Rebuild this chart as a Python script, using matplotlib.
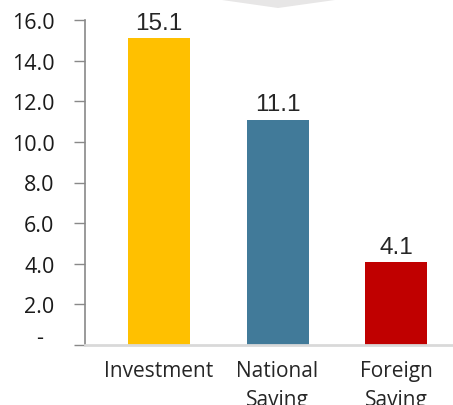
import matplotlib
matplotlib.use("Agg")
import matplotlib.pyplot as plt
from matplotlib.patches import Polygon
from matplotlib.ticker import FixedLocator, FuncFormatter

categories = ["Investment", "National\nSaving", "Foreign\nSaving"]
values = [15.1, 11.1, 4.1]
bar_colors = ["#FFC000", "#417A99", "#C00000"]
yticks = [0, 2, 4, 6, 8, 10, 12, 14, 16]

W, H = 453, 406
fig = plt.figure(figsize=(W / 100, H / 100), dpi=100)
ax = fig.add_axes([85 / W, 60 / H, 1 - 85 / W, (346 - 21) / H])

x = list(range(len(values)))
bars = ax.bar(x, values, width=0.523, color=bar_colors, zorder=2)

for xi, v in zip(x, values):
    ax.annotate(f"{v:.1f}", xy=(xi, v), xytext=(0, 3), textcoords="offset points",
                ha="center", va="bottom", fontsize=17.5, color="#262626",
                family="Liberation Sans")

ax.set_xlim(-0.624, 2.48)
ax.set_ylim(0, 16)

# y axis: 0 shown as a dash, drawn separately a little higher
ax.yaxis.set_major_locator(FixedLocator(yticks))
ax.yaxis.set_major_formatter(FuncFormatter(lambda v, p: "" if v == 0 else f"{v:.1f}"))
ax.annotate("-", xy=(0, 0), xycoords=("axes fraction", "data"), xytext=(-45, 7),
            textcoords="offset pixels", ha="center", va="center",
            fontsize=15.5, family="Open Sans", color="#1a1a1a")
ax.tick_params(axis="y", length=8, width=1, color="#898989", pad=14,
               labelsize=15.5, labelcolor="#1a1a1a")
for lbl in ax.get_yticklabels():
    lbl.set_family("Open Sans")

ax.set_xticks(x)
ax.set_xticklabels(categories, family="Open Sans", fontsize=15, color="#262626",
                   linespacing=1.5)
ax.tick_params(axis="x", length=0, pad=11)

for side in ("top", "right"):
    ax.spines[side].set_visible(False)
ax.spines["left"].set_color("#898989")
ax.spines["left"].set_linewidth(1.2)
ax.spines["bottom"].set_color("#D9D9D9")
ax.spines["bottom"].set_linewidth(2)

# grey chevron peeking in at the top edge
chevron = Polygon([(215 / W, 1.0), (342 / W, 1.0), (278 / W, 1 - 9 / H)],
                  closed=True, transform=fig.transFigure, facecolor="#E7E6E6",
                  edgecolor="none")
fig.add_artist(chevron)

fig.savefig("out.png", dpi=100)
